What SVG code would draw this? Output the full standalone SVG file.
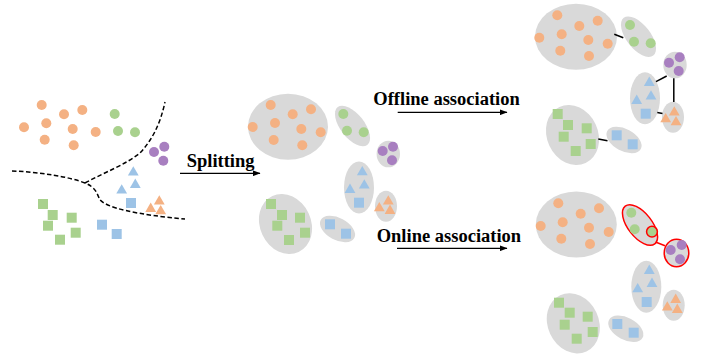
<svg xmlns="http://www.w3.org/2000/svg" xmlns:xlink="http://www.w3.org/1999/xlink" width="702" height="358" viewBox="0 0 702 358">
<style>
.bg{fill:#D9D9D9;stroke:none}
.hl{fill:#D9D9D9;stroke:#FF0000;stroke-width:1.5}
.o{fill:#F4B183}
.g{fill:#A9D18E}
.b{fill:#9DC3E6}
.p{fill:#A87FC0}
.lbl{font-family:"Liberation Serif","Times New Roman",serif;font-weight:bold;font-size:18.5px;fill:#000}
.arr{stroke:#000;stroke-width:1.3;fill:none;marker-end:url(#ah)}
.dash{stroke:#000;stroke-width:1.5;fill:none;stroke-dasharray:4.5 2.5}
.link{stroke:#000;stroke-width:1.5;fill:none}
.rlink{stroke:#FF0000;stroke-width:1.5;fill:none}
</style>
<defs>
<circle id="c" r="5"/>
<path id="t" d="M0,-4.8 L5.4,4.6 L-5.4,4.6 Z"/>
<rect id="s" x="-5" y="-5" width="10" height="10"/>
<marker id="ah" markerWidth="8" markerHeight="6" refX="7.5" refY="3" orient="auto" markerUnits="userSpaceOnUse">
<path d="M0,0 L8,3 L0,6 Z" fill="#000"/>
</marker>
</defs>

<!-- Left: raw points -->
<g id="raw-points">
<g class="o">
<use href="#c" x="41.7" y="105"/><use href="#c" x="64" y="114.3"/><use href="#c" x="82.3" y="110"/>
<use href="#c" x="24" y="127.3"/><use href="#c" x="46.3" y="123.3"/><use href="#c" x="72.7" y="129"/>
<use href="#c" x="95.7" y="132"/><use href="#c" x="44.7" y="139.7"/><use href="#c" x="73.7" y="145.3"/>
</g>
<g class="g">
<use href="#c" x="114.7" y="114"/><use href="#c" x="118" y="131"/><use href="#c" x="135" y="132.3"/>
</g>
<g class="p">
<use href="#c" x="154" y="152"/><use href="#c" x="164.3" y="146.7"/><use href="#c" x="163.3" y="160.7"/>
</g>
<g class="b">
<use href="#t" x="133.3" y="171"/><use href="#t" x="135.3" y="183.3"/><use href="#t" x="121.7" y="189"/>
<use href="#s" x="131" y="203"/><use href="#s" x="102" y="224.7"/><use href="#s" x="116.7" y="234"/>
</g>
<g class="o">
<use href="#t" x="159.3" y="200"/><use href="#t" x="150.7" y="207.3"/><use href="#t" x="160.7" y="209.7"/>
</g>
<g class="g">
<use href="#s" x="43" y="204"/><use href="#s" x="52.7" y="215"/><use href="#s" x="71.7" y="217.7"/>
<use href="#s" x="48" y="225.7"/><use href="#s" x="75.7" y="232.7"/><use href="#s" x="60" y="239.7"/>
</g>
<path class="dash" d="M12,171 C40,172 70,177 85,183 C95,187 97,193 99,198 C103,208 140,215 185,219"/>
<path class="dash" d="M85,183 C105,172 125,165 140,153 C152,140 160,125 165,102"/>
</g>

<!-- Middle: split tracklets -->
<g id="mid-orange">
<ellipse class="bg" cx="288" cy="126.7" rx="40" ry="33"/>
<g class="o">
<use href="#c" x="270.7" y="105"/><use href="#c" x="292.7" y="114.3"/><use href="#c" x="311" y="109.3"/>
<use href="#c" x="252.7" y="127"/><use href="#c" x="275" y="123"/><use href="#c" x="301.3" y="129"/>
<use href="#c" x="320.7" y="132.3"/><use href="#c" x="273.7" y="140"/><use href="#c" x="302.3" y="145.3"/>
</g>
</g>
<g id="mid-green">
<ellipse class="bg" cx="0" cy="0" rx="12" ry="24" transform="translate(352.5 126) rotate(-38)"/>
<g class="g"><use href="#c" x="343.3" y="114"/><use href="#c" x="347" y="130.7"/><use href="#c" x="363.7" y="132.3"/></g>
</g>
<g id="mid-purple">
<ellipse class="bg" cx="388.3" cy="154" rx="11.7" ry="13.3"/>
<g class="p"><use href="#c" x="382.7" y="151"/><use href="#c" x="393" y="146.7"/><use href="#c" x="392" y="160.3"/></g>
</g>
<g id="mid-blue">
<ellipse class="bg" cx="359" cy="187.5" rx="15" ry="26"/>
<g class="b"><use href="#t" x="362.3" y="170.7"/><use href="#t" x="364.3" y="184"/><use href="#t" x="350" y="188.3"/><use href="#s" x="359" y="202.7"/></g>
</g>
<g id="mid-orange-tri">
<ellipse class="bg" cx="386" cy="206.2" rx="11" ry="15.5"/>
<g class="o"><use href="#t" x="388.3" y="200"/><use href="#t" x="379.3" y="206.7"/><use href="#t" x="390" y="209.3"/></g>
</g>
<g id="mid-green-sq">
<ellipse class="bg" cx="0" cy="0" rx="25.5" ry="31" transform="translate(285.5 224) rotate(-25)"/>
<g class="g">
<use href="#s" x="271" y="204"/><use href="#s" x="282" y="215"/><use href="#s" x="300" y="217.7"/>
<use href="#s" x="277.3" y="225.7"/><use href="#s" x="305" y="232.7"/><use href="#s" x="289" y="240"/>
</g>
</g>
<g id="mid-blue-sq">
<ellipse class="bg" cx="0" cy="0" rx="19" ry="11" transform="translate(337.5 229) rotate(28)"/>
<g class="b"><use href="#s" x="330" y="224.3"/><use href="#s" x="346" y="233.7"/></g>
</g>

<!-- Right top: offline -->
<g id="off-orange">
<ellipse class="bg" cx="576" cy="36.7" rx="41" ry="33"/>
<g class="o">
<use href="#c" x="557.3" y="15.3"/><use href="#c" x="579.3" y="26"/><use href="#c" x="597.7" y="20.7"/>
<use href="#c" x="539.3" y="37.7"/><use href="#c" x="561.7" y="34.3"/><use href="#c" x="588.3" y="40"/>
<use href="#c" x="607.7" y="43.7"/><use href="#c" x="560.3" y="50.7"/><use href="#c" x="589" y="56"/>
</g>
</g>
<g id="off-green">
<ellipse class="bg" cx="0" cy="0" rx="12" ry="24" transform="translate(638.5 36.7) rotate(-38)"/>
<g class="g"><use href="#c" x="630" y="25"/><use href="#c" x="634" y="41.7"/><use href="#c" x="650.7" y="43.3"/></g>
</g>
<g id="off-purple">
<ellipse class="bg" cx="675" cy="65" rx="11.7" ry="13.3"/>
<g class="p"><use href="#c" x="669" y="62.7"/><use href="#c" x="679.7" y="57.3"/><use href="#c" x="678.7" y="71"/></g>
</g>
<g id="off-blue">
<ellipse class="bg" cx="645" cy="98.3" rx="15" ry="26"/>
<g class="b"><use href="#t" x="649.3" y="81.3"/><use href="#t" x="651" y="95"/><use href="#t" x="636.7" y="99.3"/><use href="#s" x="645.7" y="113.7"/></g>
</g>
<g id="off-orange-tri">
<ellipse class="bg" cx="673" cy="117.2" rx="11" ry="15.5"/>
<g class="o"><use href="#t" x="674.3" y="111"/><use href="#t" x="665.7" y="117.7"/><use href="#t" x="676" y="120.7"/></g>
</g>
<g id="off-green-sq">
<ellipse class="bg" cx="0" cy="0" rx="25.5" ry="31" transform="translate(572.5 135) rotate(-25)"/>
<g class="g">
<use href="#s" x="557.7" y="114"/><use href="#s" x="568" y="125"/><use href="#s" x="586.7" y="128.3"/>
<use href="#s" x="563.7" y="136.7"/><use href="#s" x="590.7" y="144"/><use href="#s" x="575.7" y="151"/>
</g>
</g>
<g id="off-blue-sq">
<ellipse class="bg" cx="0" cy="0" rx="19" ry="11" transform="translate(624 140) rotate(28)"/>
<g class="b"><use href="#s" x="616.7" y="135.3"/><use href="#s" x="632.7" y="144.3"/></g>
</g>

<!-- Right bottom: online -->
<g id="on-orange">
<ellipse class="bg" cx="576.3" cy="224.5" rx="40.5" ry="33"/>
<g class="o">
<use href="#c" x="558.3" y="203.3"/><use href="#c" x="580.7" y="213.7"/><use href="#c" x="599" y="208.3"/>
<use href="#c" x="540.7" y="226"/><use href="#c" x="562.7" y="222.3"/><use href="#c" x="589" y="227.7"/>
<use href="#c" x="608.7" y="232"/><use href="#c" x="561.3" y="238.7"/><use href="#c" x="590" y="244"/>
</g>
</g>
<g id="on-green">
<ellipse class="hl" cx="0" cy="0" rx="12" ry="24" transform="translate(640 225) rotate(-38)"/>
<g class="g"><use href="#c" x="631.3" y="212.7"/><use href="#c" x="634.7" y="229.3"/><use href="#c" x="652" y="231.7"/></g>
<circle cx="652" cy="231.7" r="5.4" fill="none" stroke="#FF0000" stroke-width="1.5"/>
</g>
<g id="on-purple">
<ellipse class="hl" cx="676.5" cy="253" rx="12.3" ry="13.7"/>
<g class="p"><use href="#c" x="670.7" y="250"/><use href="#c" x="681.7" y="245"/><use href="#c" x="680" y="259.3"/></g>
</g>
<g id="on-blue">
<ellipse class="bg" cx="646.3" cy="286.7" rx="15" ry="26"/>
<g class="b"><use href="#t" x="649.3" y="269.3"/><use href="#t" x="652" y="282.3"/><use href="#t" x="637.7" y="287.7"/><use href="#s" x="646.7" y="302"/></g>
</g>
<g id="on-orange-tri">
<ellipse class="bg" cx="673.7" cy="305.3" rx="11" ry="15.5"/>
<g class="o"><use href="#t" x="675.7" y="298.3"/><use href="#t" x="667.3" y="306"/><use href="#t" x="677.3" y="308.3"/></g>
</g>
<g id="on-green-sq">
<ellipse class="bg" cx="0" cy="0" rx="25.5" ry="31" transform="translate(573.3 323.3) rotate(-25)"/>
<g class="g">
<use href="#s" x="559" y="302.7"/><use href="#s" x="569.7" y="312.7"/><use href="#s" x="587.7" y="316.7"/>
<use href="#s" x="564.7" y="324.7"/><use href="#s" x="592.7" y="332"/><use href="#s" x="576.7" y="338.7"/>
</g>
</g>
<g id="on-blue-sq">
<ellipse class="bg" cx="0" cy="0" rx="19" ry="11" transform="translate(625.8 328.8) rotate(28)"/>
<g class="b"><use href="#s" x="617.3" y="324"/><use href="#s" x="633.7" y="332.7"/></g>
</g>

<!-- Labels -->
<g id="label-splitting"><text class="lbl" x="186.7" y="167.3">Splitting</text></g>
<g id="label-offline"><text class="lbl" x="373.3" y="105.3">Offline association</text></g>
<g id="label-online"><text class="lbl" x="376.7" y="241.7">Online association</text></g>

<!-- Connectors -->
<g id="connectors">
<line class="arr" x1="180" y1="173.3" x2="260" y2="173.3"/>
<line class="arr" x1="397.7" y1="112.3" x2="507" y2="112.3"/>
<line class="arr" x1="397" y1="248.3" x2="507" y2="248.3"/>
<line class="link" x1="614.3" y1="34.3" x2="623.3" y2="37.7"/>
<line class="link" x1="656" y1="81.7" x2="666.7" y2="76"/>
<line class="link" x1="673.8" y1="78.3" x2="673.8" y2="102"/>
<line class="link" x1="657.3" y1="112.5" x2="662.5" y2="113.5"/>
<line class="link" x1="598.3" y1="139" x2="607.5" y2="140.7"/>
<line class="rlink" x1="655.5" y1="242" x2="665" y2="245.7"/>
</g>
</svg>
